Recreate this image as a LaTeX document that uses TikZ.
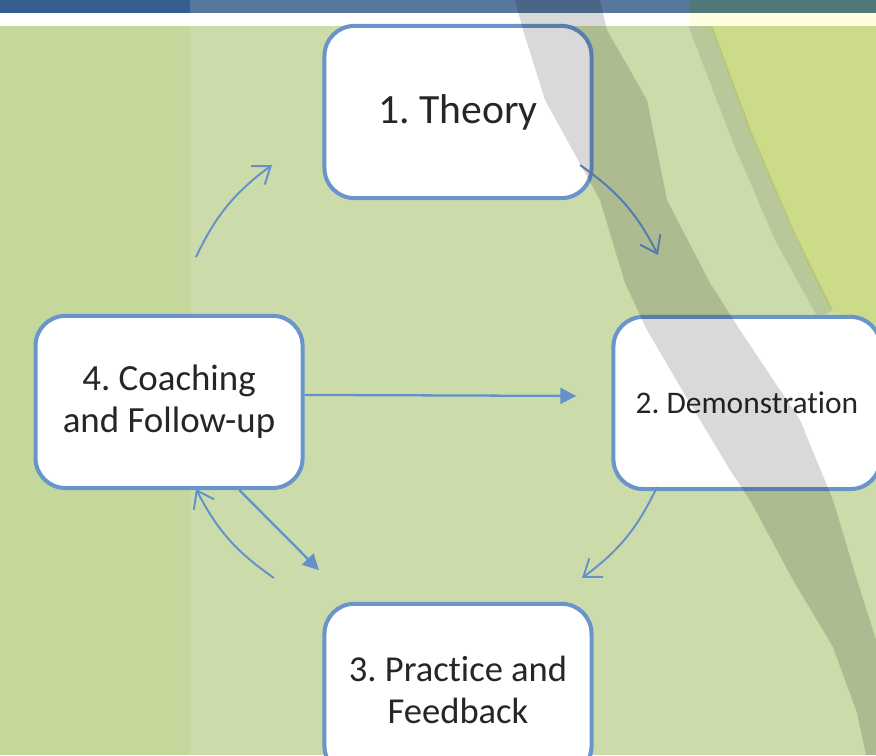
\documentclass[tikz,border=0pt]{standalone}
\usepackage{fontspec}
\setmainfont{Carlito}[Ligatures=NoCommon]
\frenchspacing
\usetikzlibrary{arrows.meta,positioning}

\definecolor{boxblue}{HTML}{6A95CB}
\definecolor{arrowblue}{HTML}{6590CA}
\definecolor{textgray}{HTML}{262626}
\definecolor{bgmid}{HTML}{CBDCAA}
\definecolor{bgleft}{HTML}{C5D89C}
\definecolor{bgyellow}{HTML}{CCDB88}
\definecolor{barblue}{HTML}{365F91}
\definecolor{barmid}{HTML}{56789F}
\definecolor{barteal}{HTML}{52777A}
\definecolor{stripcream}{HTML}{FEFDE0}

\begin{document}
\begin{tikzpicture}[x=0.02cm,y=-0.02cm,on grid,
    stage/.style={draw=boxblue,line width=2.3pt,fill=white,rounded corners=17pt,
                  minimum width=152pt,minimum height=98pt,align=center,text=textgray},
    cycle/.style={draw=arrowblue,line width=1.1pt,-{Straight Barb[length=9pt,width=13pt]}},
    push/.style={draw=arrowblue,line width=1.3pt,-{Triangle[length=9pt,width=9pt]}}]

  \useasboundingbox (0,0) rectangle (876,755);

  % slide background
  \fill[bgmid] (0,0) rectangle (876,755);
  \fill[bgleft] (0,26) rectangle (190,755);
  \fill[bgyellow] (710,25) -- (876,25) -- (876,330) -- (830,310) -- (793,233) -- (750,133) -- cycle;
  \fill[black,opacity=0.09] (688,25) -- (712,25) -- (752,133) -- (795,233) -- (833,310)
    -- (818,318) -- (775,240) -- (732,140) -- cycle;
  \fill[barblue] (0,0) rectangle (190,13);
  \fill[barmid] (190,0) rectangle (690,13);
  \fill[barteal] (690,0) rectangle (876,13);
  \fill[white] (0,13) rectangle (690,26);
  \fill[stripcream] (690,13) rectangle (876,26);

  \node[stage,font=\fontsize{23.7}{28}\selectfont] (theory) at (458,112) {1. Theory};
  \node[stage,font=\fontsize{17.9}{22}\selectfont] (demo)
       [below right=5.82cm and 5.78cm of theory] {2. Demonstration};
  \node[stage,font=\fontsize{21}{23.8}\selectfont] (coach)
       [below left=5.8cm and 5.78cm of theory] {4. Coaching\\and Follow-up};
  \node[stage,font=\fontsize{20.8}{23.8}\selectfont] (practice)
       [below=11.56cm of theory] {3. Practice and\\Feedback};

  % cycle arrows
  \coordinate (c1s) at (196,257);  \coordinate (c1e) at (272,165);
  \coordinate (c2s) at (580,165);  \coordinate (c2e) at (658,255);
  \coordinate (c3s) at (657,487);  \coordinate (c3e) at (582,578);
  \coordinate (c4s) at (274,578);  \coordinate (c4e) at (196,489);

  \draw[cycle] (c1s) to[bend left=14] (c1e);
  \draw[cycle] (c2s) to[bend left=14] (c2e);
  \draw[cycle] (c3s) to[bend left=14] (c3e);
  \draw[cycle] (c4s) to[bend left=14] (c4e);

  \draw[push] ([yshift=4pt]coach.east) -- ([xshift=-20pt,yshift=4pt]demo.west);
  \draw[push] ([xshift=40pt]coach.south) -- ([xshift=-2pt,yshift=18pt]practice.north west);

  % diagonal band over everything
  \fill[black,opacity=0.15] (515,0) -- (523,30) -- (545,100) -- (600,200) -- (625,283)
    -- (647,330) -- (688,400) -- (730,470) -- (750,500) -- (793,580) -- (833,647)
    -- (857,713) -- (866,755) -- (876,755) -- (876,640) -- (857,580) -- (833,500)
    -- (800,420) -- (740,330) -- (710,283) -- (667,200) -- (647,100) -- (607,30)
    -- (600,0) -- cycle;

\end{tikzpicture}
\end{document}
